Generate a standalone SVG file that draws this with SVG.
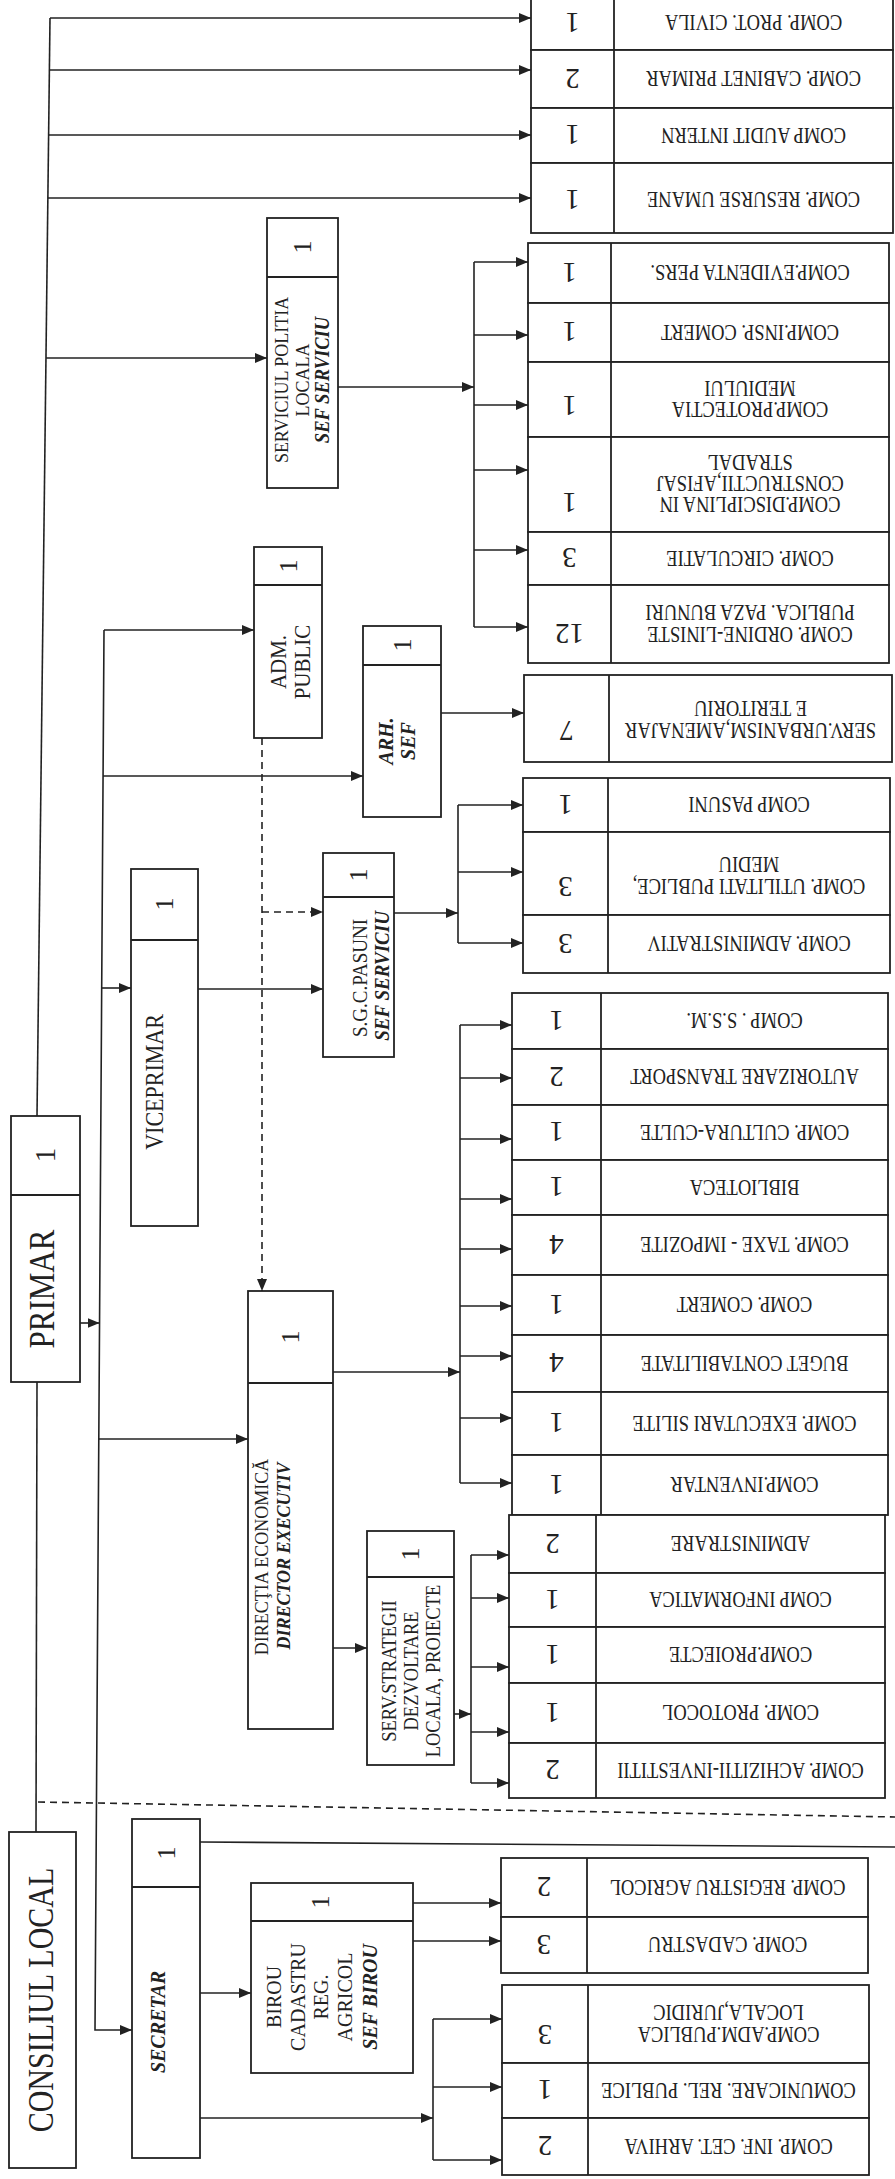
<svg xmlns="http://www.w3.org/2000/svg" width="895" height="2179" viewBox="0 0 895 2179">
<defs>
<style>
.box{fill:#fff;stroke:#222;stroke-width:1.8}
.dv{stroke:#222;stroke-width:1.8}
.c{stroke:#222;stroke-width:1.6;fill:none}
.a{marker-end:url(#ah)}
.d{stroke-dasharray:7 5}
.lbl{font-family:"Liberation Serif",serif;font-size:18.5px;text-anchor:middle;fill:#222}
.num{font-family:"Liberation Serif",serif;font-size:29px;text-anchor:middle;fill:#222}
.lnum{font-family:"Liberation Serif",serif;font-size:26px;text-anchor:middle;fill:#222}
.bi{font-weight:bold;font-style:italic}
</style>
<marker id="ah" markerUnits="userSpaceOnUse" markerWidth="12" markerHeight="10" viewBox="0 0 12 10" refX="12" refY="5" orient="auto"><path d="M0,0 L12,5 L0,10 z" fill="#222"/></marker>
</defs>
<rect x="0" y="0" width="895" height="2179" fill="#fff"/>

<g id="connectors">
<path class="c" d="M50,18 L37,1116"/>
<line class="c a" x1="50" y1="18" x2="531" y2="18"/>
<line class="c a" x1="49.4" y1="70" x2="531" y2="70"/>
<line class="c a" x1="48.6" y1="135" x2="531" y2="135"/>
<line class="c a" x1="47.9" y1="198" x2="531" y2="198"/>
<line class="c a" x1="46" y1="358" x2="267" y2="358"/>
<line class="c a" x1="338" y1="387" x2="474" y2="387"/>
<line class="c" x1="474" y1="262" x2="474" y2="627"/>
<line class="c a" x1="474" y1="262" x2="528" y2="262"/>
<line class="c a" x1="474" y1="335" x2="528" y2="335"/>
<line class="c a" x1="474" y1="405" x2="528" y2="405"/>
<line class="c a" x1="474" y1="470" x2="528" y2="470"/>
<line class="c a" x1="474" y1="550" x2="528" y2="550"/>
<line class="c a" x1="474" y1="627" x2="528" y2="627"/>
<path class="c a" d="M104,630 L95,2030 L132,2030"/>
<line class="c a" x1="80" y1="1323" x2="99.5" y2="1323"/>
<line class="c a" x1="104" y1="630" x2="254" y2="630"/>
<line class="c a" x1="103" y1="776" x2="363" y2="776"/>
<line class="c a" x1="101.7" y1="988" x2="131" y2="988"/>
<line class="c a" x1="98.8" y1="1439" x2="248" y2="1439"/>
<line class="c a" x1="441" y1="713" x2="524" y2="713"/>
<line class="c a" x1="198" y1="989" x2="323" y2="989"/>
<line class="c d a" x1="262" y1="738" x2="262" y2="1291"/>
<line class="c d a" x1="262" y1="912" x2="323" y2="912"/>
<line class="c a" x1="394" y1="913" x2="458" y2="913"/>
<line class="c" x1="458" y1="805" x2="458" y2="943"/>
<line class="c a" x1="458" y1="805" x2="523" y2="805"/>
<line class="c a" x1="458" y1="872" x2="523" y2="872"/>
<line class="c a" x1="458" y1="943" x2="523" y2="943"/>
<line class="c a" x1="333" y1="1372" x2="460" y2="1372"/>
<line class="c" x1="460" y1="1025" x2="460" y2="1483"/>
<line class="c a" x1="460" y1="1025" x2="512" y2="1025"/>
<line class="c a" x1="460" y1="1078" x2="512" y2="1078"/>
<line class="c a" x1="460" y1="1139" x2="512" y2="1139"/>
<line class="c a" x1="460" y1="1199" x2="512" y2="1199"/>
<line class="c a" x1="460" y1="1249" x2="512" y2="1249"/>
<line class="c a" x1="460" y1="1306" x2="512" y2="1306"/>
<line class="c a" x1="460" y1="1356" x2="512" y2="1356"/>
<line class="c a" x1="460" y1="1418" x2="512" y2="1418"/>
<line class="c a" x1="460" y1="1483" x2="512" y2="1483"/>
<line class="c a" x1="333" y1="1648" x2="367" y2="1648"/>
<line class="c a" x1="454" y1="1714" x2="471" y2="1714"/>
<line class="c" x1="471" y1="1555" x2="471" y2="1783"/>
<line class="c a" x1="471" y1="1555" x2="509" y2="1555"/>
<line class="c a" x1="471" y1="1598" x2="509" y2="1598"/>
<line class="c a" x1="471" y1="1667" x2="509" y2="1667"/>
<line class="c a" x1="471" y1="1732" x2="509" y2="1732"/>
<line class="c a" x1="471" y1="1783" x2="509" y2="1783"/>
<line class="c" x1="37" y1="1382" x2="36" y2="1832"/>
<line class="c d" x1="38" y1="1802" x2="895" y2="1817"/>
<line class="c" x1="200" y1="1842" x2="895" y2="1847"/>
<line class="c a" x1="200" y1="1993" x2="251" y2="1993"/>
<line class="c a" x1="413" y1="1903" x2="501" y2="1903"/>
<line class="c a" x1="413" y1="1941" x2="501" y2="1941"/>
<line class="c a" x1="200" y1="2118" x2="433" y2="2118"/>
<line class="c" x1="433" y1="2019" x2="433" y2="2160"/>
<line class="c a" x1="433" y1="2019" x2="502" y2="2019"/>
<line class="c a" x1="433" y1="2087" x2="502" y2="2087"/>
<line class="c a" x1="433" y1="2160" x2="502" y2="2160"/>
</g>

<!-- left nodes -->
<g id="primar"><rect class="box" x="11" y="1116" width="69" height="266"/><line class="dv" x1="11" y1="1195" x2="80" y2="1195"/>
<text class="num" transform="translate(45,1155) rotate(-90)" dy=".35em">1</text>
<text class="lbl" style="font-size:31px" transform="translate(42,1289) rotate(-90) scale(1,1.15)" dy=".35em">PRIMAR</text></g>

<g id="consiliul-local"><rect class="box" x="9" y="1832" width="67" height="336"/>
<text class="lbl" style="font-size:30px" transform="translate(40,2000) rotate(-90) scale(1,1.2)" dy=".35em">CONSILIUL LOCAL</text></g>

<g id="viceprimar"><rect class="box" x="131" y="869" width="67" height="357"/><line class="dv" x1="131" y1="940" x2="198" y2="940"/>
<text class="lnum" transform="translate(164,904) rotate(-90)" dy=".35em">1</text>
<text class="lbl" style="font-size:22px" transform="translate(155,1082) rotate(-90) scale(1,1.1)" dy=".35em">VICEPRIMAR</text></g>

<g id="adm-public"><rect class="box" x="254" y="547" width="68" height="191"/><line class="dv" x1="254" y1="585" x2="322" y2="585"/>
<text class="lnum" transform="translate(288,566) rotate(-90)" dy=".35em">1</text>
<text class="lbl" style="font-size:21px" transform="translate(278,662) rotate(-90) scale(1,1.1)" dy=".35em">ADM.</text>
<text class="lbl" style="font-size:21px" transform="translate(302,662) rotate(-90) scale(1,1.1)" dy=".35em">PUBLIC</text></g>

<g id="arh-sef"><rect class="box" x="363" y="626" width="78" height="191"/><line class="dv" x1="363" y1="665" x2="441" y2="665"/>
<text class="lnum" transform="translate(402,645) rotate(-90)" dy=".35em">1</text>
<text class="lbl bi" style="font-size:20px" transform="translate(385,741) rotate(-90) scale(1,1.1)" dy=".35em">ARH.</text>
<text class="lbl bi" style="font-size:20px" transform="translate(407,741) rotate(-90) scale(1,1.1)" dy=".35em">SEF</text></g>

<g id="politia-locala"><rect class="box" x="267" y="218" width="71" height="270"/><line class="dv" x1="267" y1="277" x2="338" y2="277"/>
<text class="lnum" transform="translate(302,247) rotate(-90)" dy=".35em">1</text>
<text class="lbl" style="font-size:18px" transform="translate(281,380) rotate(-90) scale(1,1.1)" dy=".35em">SERVICIUL POLITIA</text>
<text class="lbl" style="font-size:18px" transform="translate(302,380) rotate(-90) scale(1,1.1)" dy=".35em">LOCALA</text>
<text class="lbl bi" style="font-size:18.5px" transform="translate(322,380) rotate(-90) scale(1,1.1)" dy=".35em">SEF SERVICIU</text></g>

<g id="sgc-pasuni"><rect class="box" x="323" y="853" width="71" height="204"/><line class="dv" x1="323" y1="897" x2="394" y2="897"/>
<text class="lnum" transform="translate(358,875) rotate(-90)" dy=".35em">1</text>
<text class="lbl" style="font-size:19px" transform="translate(360,978) rotate(-90) scale(1,1.1)" dy=".35em">S.G.C.PASUNI</text>
<text class="lbl bi" style="font-size:19px" transform="translate(382,976) rotate(-90) scale(1,1.1)" dy=".35em">SEF SERVICIU</text></g>

<g id="directia-economica"><rect class="box" x="248" y="1291" width="85" height="438"/><line class="dv" x1="248" y1="1383" x2="333" y2="1383"/>
<text class="lnum" transform="translate(290,1337) rotate(-90)" dy=".35em">1</text>
<text class="lbl" style="font-size:18px" transform="translate(261,1557) rotate(-90) scale(1,1.1)" dy=".35em">DIRECŢIA ECONOMICĂ</text>
<text class="lbl bi" style="font-size:18px" transform="translate(283,1556) rotate(-90) scale(1,1.1)" dy=".35em">DIRECTOR EXECUTIV</text></g>

<g id="serv-strategii"><rect class="box" x="367" y="1531" width="87" height="234"/><line class="dv" x1="367" y1="1577" x2="454" y2="1577"/>
<text class="lnum" transform="translate(410,1554) rotate(-90)" dy=".35em">1</text>
<text class="lbl" transform="translate(389,1671) rotate(-90) scale(1,1.1)" dy=".35em">SERV.STRATEGII</text>
<text class="lbl" transform="translate(411,1671) rotate(-90) scale(1,1.1)" dy=".35em">DEZVOLTARE</text>
<text class="lbl" transform="translate(433,1671) rotate(-90) scale(1,1.1)" dy=".35em">LOCALA, PROIECTE</text></g>

<g id="secretar"><rect class="box" x="132" y="1819" width="68" height="339"/><line class="dv" x1="132" y1="1887" x2="200" y2="1887"/>
<text class="lnum" transform="translate(166,1853) rotate(-90)" dy=".35em">1</text>
<text class="lbl bi" style="font-size:20px" transform="translate(157,2022) rotate(-90) scale(1,1.1)" dy=".35em">SECRETAR</text></g>

<g id="birou-cadastru"><rect class="box" x="251" y="1883" width="162" height="190"/><line class="dv" x1="251" y1="1921" x2="413" y2="1921"/>
<text class="lnum" transform="translate(320,1902) rotate(-90)" dy=".35em">1</text>
<text class="lbl" style="font-size:20px" transform="translate(273,1997) rotate(-90) scale(1,1.1)" dy=".35em">BIROU</text>
<text class="lbl" style="font-size:20px" transform="translate(297,1997) rotate(-90) scale(1,1.1)" dy=".35em">CADASTRU</text>
<text class="lbl" style="font-size:20px" transform="translate(320,1997) rotate(-90) scale(1,1.1)" dy=".35em">REG.</text>
<text class="lbl" style="font-size:20px" transform="translate(344,1997) rotate(-90) scale(1,1.1)" dy=".35em">AGRICOL</text>
<text class="lbl bi" style="font-size:20px" transform="translate(369,1997) rotate(-90) scale(1,1.1)" dy=".35em">SEF BIROU</text></g>

<!-- right column: group 1 -->
<g id="comp-prot-civila"><rect class="box" x="531" y="-5" width="362" height="55"/><line class="dv" x1="614" y1="-5" x2="614" y2="50"/>
<text class="num" transform="translate(572.5,23) rotate(180)" dy=".35em">1</text>
<text class="lbl" transform="translate(753.5,23) rotate(180) scale(1,1.2)" dy=".35em">COMP. PROT. CIVILA</text></g>
<g id="comp-cabinet-primar"><rect class="box" x="531" y="50" width="362" height="58"/><line class="dv" x1="614" y1="50" x2="614" y2="108"/>
<text class="num" transform="translate(572.5,79) rotate(180)" dy=".35em">2</text>
<text class="lbl" transform="translate(753.5,79) rotate(180) scale(1,1.2)" dy=".35em">COMP. CABINET PRIMAR</text></g>
<g id="comp-audit-intern"><rect class="box" x="531" y="108" width="362" height="55"/><line class="dv" x1="614" y1="108" x2="614" y2="163"/>
<text class="num" transform="translate(572.5,135.5) rotate(180)" dy=".35em">1</text>
<text class="lbl" transform="translate(753.5,135.5) rotate(180) scale(1,1.2)" dy=".35em">COMP AUDIT INTERN</text></g>
<g id="comp-resurse-umane"><rect class="box" x="531" y="163" width="362" height="70"/><line class="dv" x1="614" y1="163" x2="614" y2="233"/>
<text class="num" transform="translate(572.5,200) rotate(180)" dy=".35em">1</text>
<text class="lbl" transform="translate(753.5,200) rotate(180) scale(1,1.2)" dy=".35em">COMP. RESURSE UMANE</text></g>

<!-- group 2 -->
<g id="comp-evidenta-pers"><rect class="box" x="528" y="243" width="361" height="60"/><line class="dv" x1="611" y1="243" x2="611" y2="303"/>
<text class="num" transform="translate(569.5,273) rotate(180)" dy=".35em">1</text>
<text class="lbl" transform="translate(750,273) rotate(180) scale(1,1.2)" dy=".35em">COMP.EVIDENTA PERS.</text></g>
<g id="comp-insp-comert"><rect class="box" x="528" y="303" width="361" height="59"/><line class="dv" x1="611" y1="303" x2="611" y2="362"/>
<text class="num" transform="translate(569.5,332.5) rotate(180)" dy=".35em">1</text>
<text class="lbl" transform="translate(750,332.5) rotate(180) scale(1,1.2)" dy=".35em">COMP.INSP. COMERT</text></g>
<g id="comp-protectia-mediului"><rect class="box" x="528" y="362" width="361" height="75"/><line class="dv" x1="611" y1="362" x2="611" y2="437"/>
<text class="num" transform="translate(569.5,406) rotate(180)" dy=".35em">1</text>
<text class="lbl" transform="translate(750,410) rotate(180) scale(1,1.2)" dy=".35em">COMP.PROTECTIA</text>
<text class="lbl" transform="translate(750,389) rotate(180) scale(1,1.2)" dy=".35em">MEDIULUI</text></g>
<g id="comp-disciplina"><rect class="box" x="528" y="437" width="361" height="95"/><line class="dv" x1="611" y1="437" x2="611" y2="532"/>
<text class="num" transform="translate(569.5,503) rotate(180)" dy=".35em">1</text>
<text class="lbl" transform="translate(750,505) rotate(180) scale(1,1.2)" dy=".35em">COMP.DISCIPLINA IN</text>
<text class="lbl" transform="translate(750,484) rotate(180) scale(1,1.2)" dy=".35em">CONSTRUCTII,AFISAJ</text>
<text class="lbl" transform="translate(750,463) rotate(180) scale(1,1.2)" dy=".35em">STRADAL</text></g>
<g id="comp-circulatie"><rect class="box" x="528" y="532" width="361" height="53"/><line class="dv" x1="611" y1="532" x2="611" y2="585"/>
<text class="num" transform="translate(569.5,558.5) rotate(180)" dy=".35em">3</text>
<text class="lbl" transform="translate(750,558.5) rotate(180) scale(1,1.2)" dy=".35em">COMP. CIRCULATIE</text></g>
<g id="comp-ordine-liniste"><rect class="box" x="528" y="585" width="361" height="78"/><line class="dv" x1="611" y1="585" x2="611" y2="663"/>
<text class="num" transform="translate(569.5,634) rotate(180)" dy=".35em">12</text>
<text class="lbl" transform="translate(750,635) rotate(180) scale(1,1.2)" dy=".35em">COMP. ORDINE-LINISTE</text>
<text class="lbl" transform="translate(750,613) rotate(180) scale(1,1.2)" dy=".35em">PUBLICA. PAZA BUNURI</text></g>

<!-- group 3 -->
<g id="serv-urbanism"><rect class="box" x="524" y="675" width="368" height="87"/><line class="dv" x1="609" y1="675" x2="609" y2="762"/>
<text class="num" transform="translate(566.5,731) rotate(180)" dy=".35em">7</text>
<text class="lbl" transform="translate(750.5,731) rotate(180) scale(1,1.2)" dy=".35em">SERV.URBANISM,AMENAJAR</text>
<text class="lbl" transform="translate(750.5,709) rotate(180) scale(1,1.2)" dy=".35em">E TERITORIU</text></g>

<!-- group 4 -->
<g id="comp-pasuni"><rect class="box" x="523" y="778" width="367" height="54"/><line class="dv" x1="608" y1="778" x2="608" y2="832"/>
<text class="num" transform="translate(565.5,805) rotate(180)" dy=".35em">1</text>
<text class="lbl" transform="translate(749,805) rotate(180) scale(1,1.2)" dy=".35em">COMP  PASUNI</text></g>
<g id="comp-utilitati-publice"><rect class="box" x="523" y="832" width="367" height="83"/><line class="dv" x1="608" y1="832" x2="608" y2="915"/>
<text class="num" transform="translate(565.5,887) rotate(180)" dy=".35em">3</text>
<text class="lbl" transform="translate(749,887) rotate(180) scale(1,1.2)" dy=".35em">COMP. UTILITATI PUBLICE,</text>
<text class="lbl" transform="translate(749,865) rotate(180) scale(1,1.2)" dy=".35em">MEDIU</text></g>
<g id="comp-administrativ"><rect class="box" x="523" y="915" width="367" height="58"/><line class="dv" x1="608" y1="915" x2="608" y2="973"/>
<text class="num" transform="translate(565.5,944) rotate(180)" dy=".35em">3</text>
<text class="lbl" transform="translate(749,944) rotate(180) scale(1,1.2)" dy=".35em">COMP. ADMINISTRATIV</text></g>

<!-- group 5 -->
<g id="comp-ssm"><rect class="box" x="512" y="993" width="376" height="56"/><line class="dv" x1="601" y1="993" x2="601" y2="1049"/>
<text class="num" transform="translate(556.5,1021) rotate(180)" dy=".35em">1</text>
<text class="lbl" transform="translate(744.5,1021) rotate(180) scale(1,1.2)" dy=".35em">COMP . S.S.M.</text></g>
<g id="autorizare-transport"><rect class="box" x="512" y="1049" width="376" height="56"/><line class="dv" x1="601" y1="1049" x2="601" y2="1105"/>
<text class="num" transform="translate(556.5,1077) rotate(180)" dy=".35em">2</text>
<text class="lbl" transform="translate(744.5,1077) rotate(180) scale(1,1.2)" dy=".35em">AUTORIZARE TRANSPORT</text></g>
<g id="comp-cultura-culte"><rect class="box" x="512" y="1105" width="376" height="55"/><line class="dv" x1="601" y1="1105" x2="601" y2="1160"/>
<text class="num" transform="translate(556.5,1132.5) rotate(180)" dy=".35em">1</text>
<text class="lbl" transform="translate(744.5,1132.5) rotate(180) scale(1,1.2)" dy=".35em">COMP. CULTURA-CULTE</text></g>
<g id="biblioteca"><rect class="box" x="512" y="1160" width="376" height="55"/><line class="dv" x1="601" y1="1160" x2="601" y2="1215"/>
<text class="num" transform="translate(556.5,1187.5) rotate(180)" dy=".35em">1</text>
<text class="lbl" transform="translate(744.5,1187.5) rotate(180) scale(1,1.2)" dy=".35em">BIBLIOTECA</text></g>
<g id="comp-taxe-impozite"><rect class="box" x="512" y="1215" width="376" height="60"/><line class="dv" x1="601" y1="1215" x2="601" y2="1275"/>
<text class="num" transform="translate(556.5,1245) rotate(180)" dy=".35em">4</text>
<text class="lbl" transform="translate(744.5,1245) rotate(180) scale(1,1.2)" dy=".35em">COMP. TAXE - IMPOZITE</text></g>
<g id="comp-comert"><rect class="box" x="512" y="1275" width="376" height="60"/><line class="dv" x1="601" y1="1275" x2="601" y2="1335"/>
<text class="num" transform="translate(556.5,1305) rotate(180)" dy=".35em">1</text>
<text class="lbl" transform="translate(744.5,1305) rotate(180) scale(1,1.2)" dy=".35em">COMP. COMERT</text></g>
<g id="buget-contabilitate"><rect class="box" x="512" y="1335" width="376" height="57"/><line class="dv" x1="601" y1="1335" x2="601" y2="1392"/>
<text class="num" transform="translate(556.5,1363.5) rotate(180)" dy=".35em">4</text>
<text class="lbl" transform="translate(744.5,1363.5) rotate(180) scale(1,1.2)" dy=".35em">BUGET CONTABILITATE</text></g>
<g id="comp-executari-silite"><rect class="box" x="512" y="1392" width="376" height="63"/><line class="dv" x1="601" y1="1392" x2="601" y2="1455"/>
<text class="num" transform="translate(556.5,1423.5) rotate(180)" dy=".35em">1</text>
<text class="lbl" transform="translate(744.5,1423.5) rotate(180) scale(1,1.2)" dy=".35em">COMP. EXECUTARI SILITE</text></g>
<g id="comp-inventar"><rect class="box" x="512" y="1455" width="376" height="60"/><line class="dv" x1="601" y1="1455" x2="601" y2="1515"/>
<text class="num" transform="translate(556.5,1485) rotate(180)" dy=".35em">1</text>
<text class="lbl" transform="translate(744.5,1485) rotate(180) scale(1,1.2)" dy=".35em">COMP.INVENTAR</text></g>

<!-- group 6 -->
<g id="administrare"><rect class="box" x="509" y="1515" width="376" height="58"/><line class="dv" x1="596" y1="1515" x2="596" y2="1573"/>
<text class="num" transform="translate(552.5,1544) rotate(180)" dy=".35em">2</text>
<text class="lbl" transform="translate(740.5,1544) rotate(180) scale(1,1.2)" dy=".35em">ADMINISTRARE</text></g>
<g id="comp-informatica"><rect class="box" x="509" y="1573" width="376" height="54"/><line class="dv" x1="596" y1="1573" x2="596" y2="1627"/>
<text class="num" transform="translate(552.5,1600) rotate(180)" dy=".35em">1</text>
<text class="lbl" transform="translate(740.5,1600) rotate(180) scale(1,1.2)" dy=".35em">COMP INFORMATICA</text></g>
<g id="comp-proiecte"><rect class="box" x="509" y="1627" width="376" height="56"/><line class="dv" x1="596" y1="1627" x2="596" y2="1683"/>
<text class="num" transform="translate(552.5,1655) rotate(180)" dy=".35em">1</text>
<text class="lbl" transform="translate(740.5,1655) rotate(180) scale(1,1.2)" dy=".35em">COMP.PROIECTE</text></g>
<g id="comp-protocol"><rect class="box" x="509" y="1683" width="376" height="60"/><line class="dv" x1="596" y1="1683" x2="596" y2="1743"/>
<text class="num" transform="translate(552.5,1713) rotate(180)" dy=".35em">1</text>
<text class="lbl" transform="translate(740.5,1713) rotate(180) scale(1,1.2)" dy=".35em">COMP. PROTOCOL</text></g>
<g id="comp-achizitii"><rect class="box" x="509" y="1743" width="376" height="55"/><line class="dv" x1="596" y1="1743" x2="596" y2="1798"/>
<text class="num" transform="translate(552.5,1770.5) rotate(180)" dy=".35em">2</text>
<text class="lbl" transform="translate(740.5,1770.5) rotate(180) scale(1,1.2)" dy=".35em">COMP. ACHIZITII-INVESTITII</text></g>

<!-- group 7 -->
<g id="comp-registru-agricol"><rect class="box" x="501" y="1858" width="367" height="59"/><line class="dv" x1="587" y1="1858" x2="587" y2="1917"/>
<text class="num" transform="translate(544,1887.5) rotate(180)" dy=".35em">2</text>
<text class="lbl" transform="translate(727.5,1887.5) rotate(180) scale(1,1.2)" dy=".35em">COMP. REGISTRU AGRICOL</text></g>
<g id="comp-cadastru"><rect class="box" x="501" y="1917" width="367" height="56"/><line class="dv" x1="587" y1="1917" x2="587" y2="1973"/>
<text class="num" transform="translate(544,1945) rotate(180)" dy=".35em">3</text>
<text class="lbl" transform="translate(727.5,1945) rotate(180) scale(1,1.2)" dy=".35em">COMP. CADASTRU</text></g>

<!-- group 8 -->
<g id="comp-adm-publica"><rect class="box" x="502" y="1985" width="367" height="78"/><line class="dv" x1="588" y1="1985" x2="588" y2="2063"/>
<text class="num" transform="translate(545,2035) rotate(180)" dy=".35em">3</text>
<text class="lbl" transform="translate(728.5,2035) rotate(180) scale(1,1.2)" dy=".35em">COMP.ADM.PUBLICA</text>
<text class="lbl" transform="translate(728.5,2013) rotate(180) scale(1,1.2)" dy=".35em">LOCALA,JURIDIC</text></g>
<g id="comunicare-rel-publice"><rect class="box" x="502" y="2063" width="367" height="55"/><line class="dv" x1="588" y1="2063" x2="588" y2="2118"/>
<text class="num" transform="translate(545,2090.5) rotate(180)" dy=".35em">1</text>
<text class="lbl" transform="translate(728.5,2090.5) rotate(180) scale(1,1.2)" dy=".35em">COMUNICARE. REL. PUBLICE</text></g>
<g id="comp-inf-cet-arhiva"><rect class="box" x="502" y="2118" width="367" height="57"/><line class="dv" x1="588" y1="2118" x2="588" y2="2175"/>
<text class="num" transform="translate(545,2146.5) rotate(180)" dy=".35em">2</text>
<text class="lbl" transform="translate(728.5,2146.5) rotate(180) scale(1,1.2)" dy=".35em">COMP. INF. CET. ARHIVA</text></g>
</svg>
